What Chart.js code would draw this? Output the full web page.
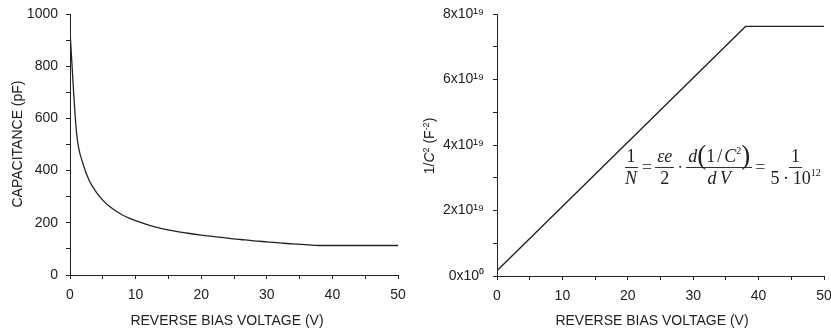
<!DOCTYPE html>
<html>
<head>
<meta charset="utf-8">
<script src="https://cdn.jsdelivr.net/npm/chart.js@4"></script>
<style>
  html, body { margin:0; padding:0; background:#fff; }
  body { width:831px; height:334px; position:relative; overflow:hidden; font-family:'Liberation Sans', Arial, sans-serif; color:#222; }
  canvas { position:absolute; top:0; }
  .xt { position:absolute; width:300px; text-align:center; font-size:14px; line-height:16px; top:312px; white-space:nowrap; }
  .yt { position:absolute; width:200px; text-align:center; font-size:14px; line-height:16px; white-space:nowrap; transform:rotate(-90deg); transform-origin:50% 50%; }
  .yt sup { font-size:9px; line-height:0; vertical-align:5px; }
  #formula { position:absolute; left:623px; top:146px; font-family:'Liberation Serif','DejaVu Serif',serif; font-size:18px; color:#222; display:flex; align-items:center; white-space:nowrap; }
  .frac { display:inline-flex; flex-direction:column; align-items:center; }
  .frac .num { border-bottom:1px solid #333; padding:0 2px; line-height:21px; height:21px; }
  .frac .den { line-height:20px; padding:0 2px; }
  .op { margin:0 3px; color:#555; }
  .big { font-size:27px; line-height:0; vertical-align:-2px; }
  #formula sup { font-size:10px; line-height:0; vertical-align:8px; }
</style>
</head>
<body>
<canvas id="c1" width="415" height="334" style="left:0"></canvas>
<canvas id="c2" width="416" height="334" style="left:415px"></canvas>

<div class="xt" style="left:77px">REVERSE BIAS VOLTAGE (V)</div>
<div class="xt" style="left:502px">REVERSE BIAS VOLTAGE (V)</div>
<div class="yt" style="left:-83px; top:136px">CAPACITANCE (pF)</div>
<div class="yt" style="left:329px; top:138px">1/<i>C</i><sup>2</sup> (F<sup>-2</sup>)</div>

<div id="formula">
  <span class="frac"><span class="num">1</span><span class="den"><i>N</i></span></span>
  <span class="op">=</span>
  <span class="frac"><span class="num"><i>εe</i></span><span class="den">2</span></span>
  <span class="op">·</span>
  <span class="frac"><span class="num"><i>d</i><span class="big">(</span>1<span style="margin:0 2px">/</span><i>C</i><sup>2</sup><span class="big">)</span></span><span class="den"><i>d</i>&#8201;<i>V</i></span></span>
  <span class="op">=</span>
  <span class="frac"><span class="num">1</span><span class="den">5&#8201;·&#8201;10<sup>12</sup></span></span>
</div>

<script>
// ---- data ----
const voltageLeft = [0, 1, 2, 3, 4, 5, 6, 7, 8, 9, 10, 12, 14, 16, 18, 20, 22, 24, 26, 28, 30, 32, 34, 36, 38, 50];
const capacitancePF = [932, 545, 425, 358, 318, 287, 263, 245, 230, 218, 208, 191, 178, 168, 160, 153, 147, 141, 136, 131, 127, 123, 119, 116, 113, 113];

const voltageRight = [0, 38, 50];
const invCapSquared = [1.6e18, 7.62e19, 7.62e19];

const xTickLabels = ['0', '10', '20', '30', '40', '50'];
const leftYTickLabels = ['0', '200', '400', '600', '800', '1000'];
const rightYTickLabels = ['0x10\u2070', '2x10\u00B9\u2079', '4x10\u00B9\u2079', '6x10\u00B9\u2079', '8x10\u00B9\u2079'];

// ---- styling ----
const INK = '#222';
const tickFont = { family: "'Liberation Sans', Arial, sans-serif", size: 14 };

function xScale(height) {
  return {
    type: 'linear', min: 0, max: 50,
    ticks: {
      stepSize: 5, autoSkip: false, maxRotation: 0, padding: 8, color: INK, font: tickFont,
      callback: v => (v % 10 === 0 ? xTickLabels[v / 10] : '')
    },
    grid: { drawOnChartArea: false, drawTicks: true, tickLength: 4, color: INK, tickColor: INK, lineWidth: 1 },
    border: { display: true, color: INK, width: 1 },
    title: { display: false },
    afterFit: s => { s.height = height; s.paddingLeft = 0; s.paddingRight = 0; }
  };
}

function common(padRight) {
  return {
    responsive: false, animation: false, devicePixelRatio: 1,
    layout: { padding: { top: 14, right: padRight, left: 0, bottom: 0 } },
    plugins: { legend: { display: false }, tooltip: { enabled: false } },
    elements: { point: { radius: 0 } }
  };
}

new Chart(document.getElementById('c1'), {
  type: 'line',
  data: {
    datasets: [{
      data: voltageLeft.map((v, i) => ({ x: v, y: capacitancePF[i] })),
      borderColor: INK, borderWidth: 1.3, pointRadius: 0, fill: false,
      cubicInterpolationMode: 'monotone'
    }]
  },
  options: Object.assign(common(17), {
    scales: {
      x: xScale(59),
      y: {
        type: 'linear', min: 0, max: 1000,
        ticks: {
          stepSize: 100, autoSkip: false, padding: 8, color: INK, font: tickFont,
          callback: v => (v % 200 === 0 ? leftYTickLabels[v / 200] : '')
        },
        grid: { drawOnChartArea: false, drawTicks: true, tickLength: 4, color: INK, tickColor: INK },
        border: { display: true, color: INK, width: 1 },
        title: { display: false },
        afterFit: s => { s.width = 70; s.paddingTop = 0; s.paddingBottom = 0; }
      }
    }
  })
});

new Chart(document.getElementById('c2'), {
  type: 'line',
  data: {
    datasets: [{
      data: voltageRight.map((v, i) => ({ x: v, y: invCapSquared[i] })),
      borderColor: INK, borderWidth: 1.3, pointRadius: 0, fill: false, tension: 0
    }]
  },
  options: Object.assign(common(7), {
    scales: {
      x: xScale(58),
      y: {
        type: 'linear', min: 0, max: 8e19,
        ticks: {
          stepSize: 1e19, autoSkip: false, padding: 9, color: INK, font: tickFont,
          callback: v => {
            const k = Math.round(v / 1e19);
            return k % 2 === 0 ? rightYTickLabels[k / 2] : '';
          }
        },
        grid: { drawOnChartArea: false, drawTicks: true, tickLength: 4, color: INK, tickColor: INK },
        border: { display: true, color: INK, width: 1 },
        title: { display: false },
        afterFit: s => { s.width = 82; s.paddingTop = 0; s.paddingBottom = 0; }
      }
    }
  })
});
</script>
</body>
</html>
